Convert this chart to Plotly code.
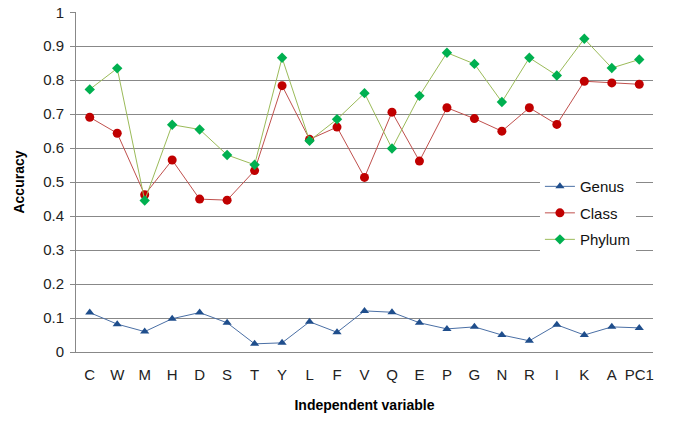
import plotly.graph_objects as go

categories = ["C","W","M","H","D","S","T","Y","L","F","V","Q","E","P","G","N","R","I","K","A","PC1"]
genus = [0.116,0.082,0.060,0.098,0.116,0.086,0.024,0.027,0.089,0.058,0.121,0.117,0.086,0.068,0.074,0.050,0.033,0.080,0.050,0.074,0.071]
class_ = [0.691,0.644,0.463,0.565,0.450,0.447,0.534,0.784,0.626,0.662,0.514,0.706,0.562,0.719,0.687,0.650,0.719,0.670,0.797,0.792,0.788]
phylum = [0.773,0.835,0.446,0.669,0.655,0.580,0.551,0.866,0.622,0.685,0.762,0.599,0.754,0.881,0.848,0.736,0.866,0.814,0.922,0.836,0.861]
y_ticks = [0,0.1,0.2,0.3,0.4,0.5,0.6,0.7,0.8,0.9,1]
y_tick_text = ["0","0.1","0.2","0.3","0.4","0.5","0.6","0.7","0.8","0.9","1"]

fig = go.Figure()
fig.add_trace(go.Scatter(x=categories, y=genus, name="Genus", mode="lines+markers", legendgroup="g",
    line=dict(color="#4A6FA5", width=1),
    marker=dict(symbol="triangle-up", size=8, color="#1F4E8C")))
fig.add_trace(go.Scatter(x=categories, y=class_, name="Class", mode="lines+markers", legendgroup="c",
    line=dict(color="#C0504D", width=1),
    marker=dict(symbol="circle", size=9, color="#C00000")))
fig.add_trace(go.Scatter(x=categories, y=phylum, name="Phylum", mode="lines+markers", legendgroup="p",
    line=dict(color="#9BBB59", width=1),
    marker=dict(symbol="diamond", size=8, color="#00B050")))

fig.update_layout(
    width=680, height=426,
    margin=dict(l=76, r=27, t=12, b=74, autoexpand=False),
    paper_bgcolor="white", plot_bgcolor="white",
    font=dict(family="Liberation Sans, Arial, sans-serif", size=15, color="#222222"),
    showlegend=True,
    legend=dict(x=0.804, y=0.535, xanchor="left", yanchor="top",
                bgcolor="white", font=dict(size=15, color="#111111"),
                traceorder="grouped", tracegroupgap=4, entrywidth=70),
    xaxis=dict(type="category", showgrid=False, showline=True, linecolor="#888888", linewidth=1,
               ticks="", tickfont=dict(size=15), range=[-0.5, 20.5], ticklabelstandoff=9,
               automargin=False,
               title=dict(text="<b>Independent variable</b>", font=dict(size=14, color="#000000"), standoff=18)),
    yaxis=dict(range=[0, 1.0008], tickvals=y_ticks, ticktext=y_tick_text,
               showgrid=True, gridcolor="#888888", gridwidth=1,
               showline=True, linecolor="#888888", linewidth=1,
               ticks="outside", ticklen=5, tickcolor="#888888", tickfont=dict(size=15),
               ticklabelstandoff=3, ticklabeloverflow="allow",
               zeroline=False, automargin=False,
               title=dict(text="<b>Accuracy</b>", font=dict(size=14, color="#000000"), standoff=15)),
)

fig.write_html("out.html", config={"displayModeBar": False},
               post_script="document.body.style.margin='0';document.body.style.overflow='hidden';")
